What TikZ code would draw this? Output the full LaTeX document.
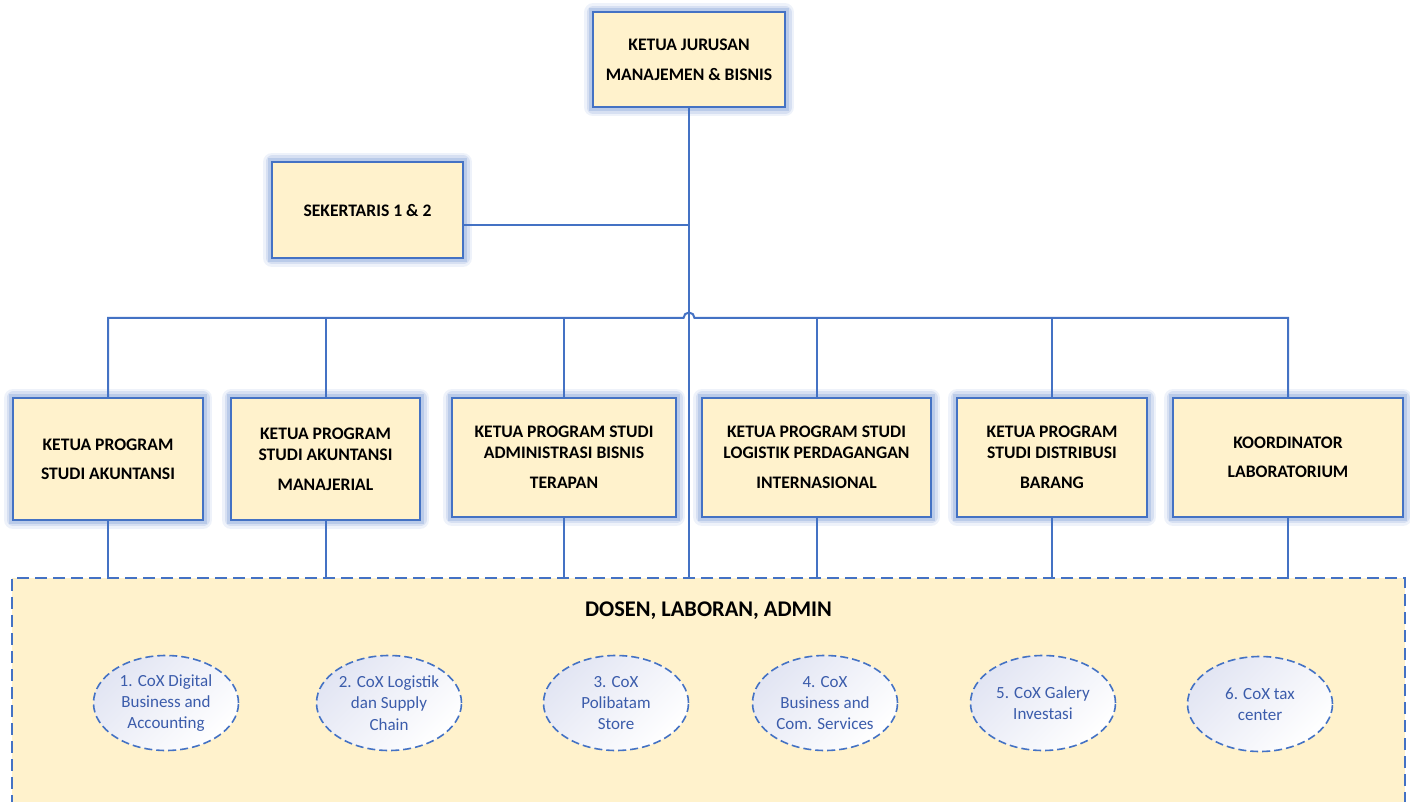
\documentclass[tikz,border=0pt]{standalone}
\usepackage{fontspec}
\setmainfont{Carlito}
\usetikzlibrary{shapes.geometric,positioning}
\definecolor{boxfill}{HTML}{FFF2CC}
\definecolor{lineblue}{HTML}{4472C4}
\definecolor{glowblue}{HTML}{8FAADC}
\definecolor{coxtext}{HTML}{3B5CAB}
\definecolor{coxshade}{HTML}{E2E5F3}

\begin{document}
\begin{tikzpicture}[x=0.5pt, y=-0.5pt,
        unit/.style={draw=lineblue, line width=1pt, fill=boxfill, align=center, inner sep=0pt,
        font=\fontsize{8.8}{10.5}\selectfont\bfseries,
        preaction={draw=glowblue, line width=9pt, line join=round, opacity=.15},
        preaction={draw=glowblue, line width=6.5pt, line join=round, opacity=.25},
        preaction={draw=glowblue, line width=4pt, opacity=.4}},
        narrow/.style={unit, minimum width=95pt, minimum height=60pt},
        wide/.style={unit, minimum width=114pt, minimum height=59.5pt},
        cox/.style={ellipse, draw=lineblue, line width=0.8pt, dash pattern=on 4pt off 2pt,
        top color=coxshade, bottom color=white, shading angle=45, text=coxtext, align=center,
        minimum width=72.5pt, minimum height=47.5pt, inner sep=0pt, font=\fontsize{8.5}{10.6}\selectfont},
        link/.style={draw=lineblue, line width=1pt}]

        \useasboundingbox (0,0) rectangle (1410,802);

        % staff area at the bottom, cut by the page edge
        \node[draw=lineblue, line width=1pt, dash pattern=on 6pt off 3pt, fill=boxfill, inner sep=0pt,
        minimum width=696.5pt, minimum height=118.5pt,
        label={[anchor=north, inner sep=1pt, yshift=-11pt, font=\fontsize{11.2}{13}\selectfont\bfseries]north:{DOSEN, LABORAN, ADMIN}}]
        (staff) at (708.5,696.5) {};

        \node[unit, minimum width=96pt, minimum height=47.5pt] (head) at (689,60) {KETUA JURUSAN\\[4.5pt]MANAJEMEN \& BISNIS};
        \node[unit, minimum width=95.5pt, minimum height=48pt] (sek) at (367.5,210) {SEKERTARIS 1 \& 2};

        \node[narrow, minimum height=61pt] (p1) at (108,459) {KETUA PROGRAM\\[4pt]STUDI AKUNTANSI};
        \node[narrow, minimum height=61pt, minimum width=94.5pt] (p2) at (325.5,459) {KETUA PROGRAM\\STUDI AKUNTANSI\\[4.5pt]MANAJERIAL};
        \node[wide, minimum width=112pt] (p3) at (564,457.5) {KETUA PROGRAM STUDI\\ADMINISTRASI BISNIS\\[4.5pt]TERAPAN};
        \node[wide, minimum width=114.5pt] (p4) at (816.5,457.5) {KETUA PROGRAM STUDI\\LOGISTIK PERDAGANGAN\\[4.5pt]INTERNASIONAL};
        \node[narrow, minimum height=59.5pt] (p5) at (1052,457.5) {KETUA PROGRAM\\STUDI DISTRIBUSI\\[4.5pt]BARANG};
        \node[wide, minimum width=115pt] (p6) at (1288,457.5) {KOORDINATOR\\[4pt]LABORATORIUM};

        \node[cox] (cox1) at (166,703) {1. CoX Digital\\Business and\\Accounting};
        \node[cox] (cox2) at (389,703) {2. CoX Logistik\\dan Supply\\Chain};
        \node[cox] (cox3) at (616,703) {3. CoX\\Polibatam\\Store};
        \node[cox] (cox4) at (825,703) {4. CoX\\Business and\\Com. Services};
        \node[cox] (cox5) at (1043,703) {5. CoX Galery\\Investasi};
        \node[cox] (cox6) at (1260,704) {6. CoX tax\\center};

        % connectors
        \coordinate (bus) at (head.south |- 0,318);
        \coordinate (sekout) at ([yshift=-7.5pt]sek.east);

        \draw[link] (head.south) -- (head.south |- staff.north);
        \draw[link] (sekout) -- (sekout -| head.south);
        \draw[link] (p1.north) |- ([xshift=-2.75pt]bus) arc[start angle=180, end angle=0, radius=2.75pt] -| (p6.north);
        \foreach \n in {p2,p3,p4,p5}
            \draw[link] (\n.north) -- (\n.north |- bus);
        \foreach \n in {p1,p2,p3,p4,p5,p6}
            \draw[link] (\n.south) -- (\n.south |- staff.north);

    \end{tikzpicture}
\end{document}
